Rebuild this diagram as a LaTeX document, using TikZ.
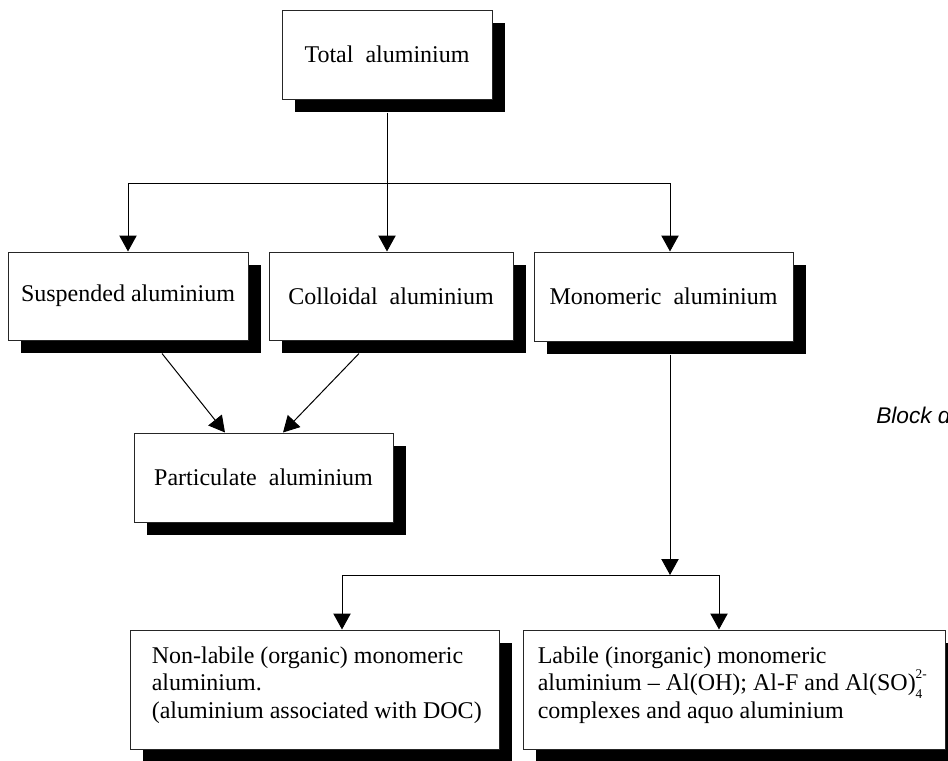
\documentclass[tikz,border=0pt]{standalone}
\usepackage{fontspec}
\setmainfont{Liberation Serif}
\newfontfamily\capfont{Liberation Sans}
\usetikzlibrary{arrows.meta,shadows,calc}
\newcommand{\stackscr}[2]{\rlap{\raisebox{0.52em}{\fontsize{10}{10}\selectfont #1}}\raisebox{-0.32em}{\fontsize{10}{10}\selectfont #2}}
\begin{document}
\begin{tikzpicture}[x=0.75pt,y=-0.75pt,
  box/.style={draw=black!85, line width=0.75pt, fill=white, inner sep=0pt,
    font=\fontsize{18}{20.6}\selectfont,
    drop shadow={shadow xshift=9.75pt, shadow yshift=-9.75pt, fill=black, opacity=1}},
  txt/.style={align=left, inner sep=0pt, font=\fontsize{18}{20.6}\selectfont},
  ln/.style={line width=0.75pt},
  arr/.style={line width=0.75pt, -{Triangle[width=13pt,length=12pt]}}]
\useasboundingbox (0,0) rectangle (948,760);
\clip (0,0) rectangle (948,760);
% boxes
\node[box, minimum width=210*0.75pt, minimum height=89*0.75pt] (T) at (387,54.5) {Total\ \ aluminium};
\node[box, minimum width=240*0.75pt, minimum height=88*0.75pt] (S) at (128,296) {Suspended aluminium};
\node[box, minimum width=244*0.75pt, minimum height=88*0.75pt] (C) at (391,296) {Colloidal\ \ aluminium};
\node[box, minimum width=259*0.75pt, minimum height=89*0.75pt] (M) at (663.5,296.5) {Monomeric\ \ aluminium};
\node[box, minimum width=259*0.75pt, minimum height=89*0.75pt] (P) at (263.5,477.5) {Particulate\ \ aluminium};
\node[box, minimum width=369*0.75pt, minimum height=119*0.75pt] (NL) at (314.5,689.5) {};
\node[box, minimum width=422*0.75pt, minimum height=119*0.75pt] (LB) at (734,689.5) {};
\node[txt, anchor=west] (NLt) at ($(NL.west)+(22,-4.5)$) {Non-labile (organic) monomeric\\aluminium.\\(aluminium associated with DOC)};
\node[txt, anchor=west] (LBt) at ($(LB.west)+(15,-4.5)$) {Labile (inorganic) monomeric\\aluminium -- Al(OH); Al-F and Al(SO)\stackscr{2-}{4}\\complexes and aquo aluminium};
\node[font=\capfont\itshape\fontsize{17}{20}\selectfont, anchor=base west, inner sep=0pt] (cap) at (876,423) {Block d};
% connectors
\coordinate (j1) at (387,183);
\draw[ln] ($(T.south)+(0,13)$) -- (j1);
\draw[arr] (j1) -| (S.north);
\draw[arr] (j1) -- (j1 |- C.north);
\draw[arr] (j1) -| ($(M.north)+(6.5,0)$);
\draw[arr] ($(S.south)+(34,13)$) -- ($(P.north)+(-38.5,0)$);
\draw[arr] ($(C.south)+(-32,13)$) -- ($(P.north)+(19.5,0)$);
\coordinate (j2) at (670,575);
\draw[arr] ($(M.south)+(6.5,13)$) -- (j2);
\draw[arr] (j2) -| ($(NL.north)+(27.5,0)$);
\draw[arr] (j2) -| ($(LB.north)+(-15,0)$);
\end{tikzpicture}
\end{document}
